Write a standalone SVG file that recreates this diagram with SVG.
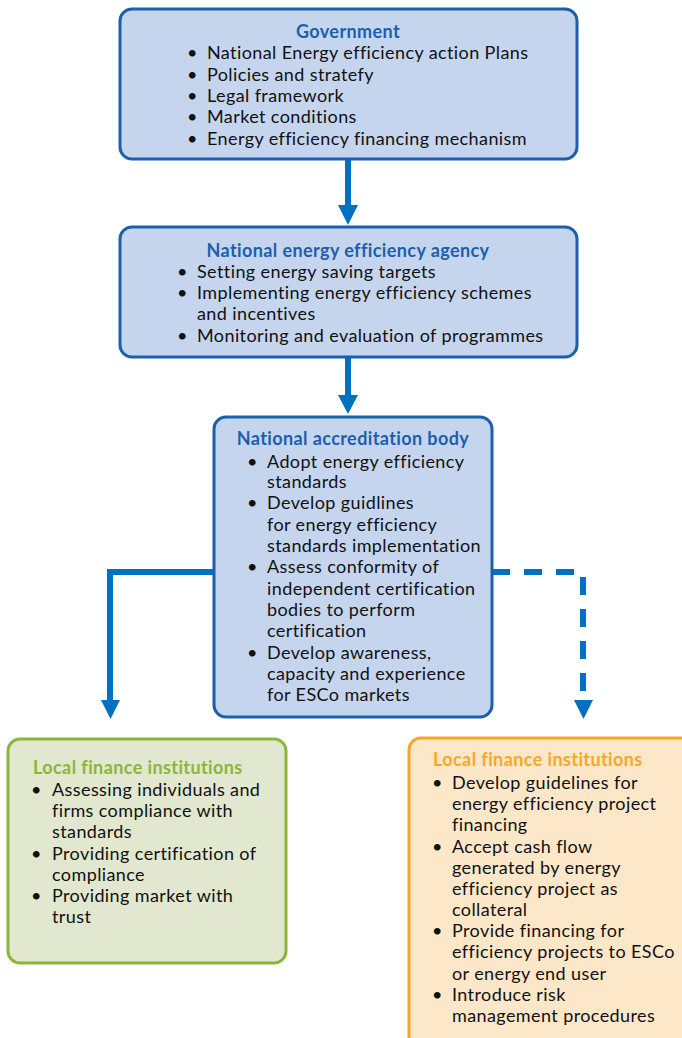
<svg xmlns="http://www.w3.org/2000/svg" width="682" height="1038" viewBox="0 0 682 1038">
  <style>
    .blue-box { fill: #c6d5ee; stroke: #1c5fac; stroke-width: 3; }
    .green-box { fill: #e1e8cf; stroke: #8db53c; stroke-width: 3; }
    .orange-box { fill: #fde7c9; stroke: #f6a72a; stroke-width: 3; }
    text { font-family: Lato, "Liberation Sans", sans-serif; font-size: 18px; letter-spacing: 0.4px; fill: #111111; }
    .title { font-weight: bold; letter-spacing: 0.4px; }
    .t-blue { fill: #1c5fac; }
    .t-green { fill: #8db53c; }
    .t-orange { fill: #f6a72a; }
    .conn { fill: none; stroke: #0070c0; stroke-width: 6; }
    .dashed { stroke-dasharray: 18 14; }
    .head { fill: #0070c0; }
  </style>

  <!-- connectors -->
  <g id="connectors">
    <line class="conn" x1="348" y1="160" x2="348" y2="207"/>
    <polygon class="head" points="338,205 358,205 348,225"/>
    <line class="conn" x1="348" y1="358" x2="348" y2="397"/>
    <polygon class="head" points="338,395 358,395 348,414"/>
    <polyline class="conn" points="213,572 110,572 110,702"/>
    <polygon class="head" points="101,700 120,700 110.5,719"/>
    <polyline class="conn dashed" points="492,572 583,572 583,702"/>
    <polygon class="head" points="574,700 593,700 583.5,719"/>
  </g>

  <!-- Government -->
  <g id="government">
    <rect class="blue-box" x="120" y="9" width="457" height="150" rx="12"/>
    <text class="title t-blue" x="348" y="38" text-anchor="middle">Government</text>
    <text x="187" y="59">•</text><text x="207" y="59">National Energy efficiency action Plans</text>
    <text x="187" y="81">•</text><text x="207" y="81">Policies and stratefy</text>
    <text x="187" y="102">•</text><text x="207" y="102">Legal framework</text>
    <text x="187" y="123">•</text><text x="207" y="123">Market conditions</text>
    <text x="187" y="145">•</text><text x="207" y="145">Energy efficiency financing mechanism</text>
  </g>

  <!-- National energy efficiency agency -->
  <g id="agency">
    <rect class="blue-box" x="120" y="227" width="457" height="130" rx="12"/>
    <text class="title t-blue" x="348" y="257" text-anchor="middle">National energy efficiency agency</text>
    <text x="177" y="278">•</text><text x="197" y="278">Setting energy saving targets</text>
    <text x="177" y="299">•</text><text x="197" y="299">Implementing energy efficiency schemes</text>
    <text x="197" y="320">and incentives</text>
    <text x="177" y="342">•</text><text x="197" y="342">Monitoring and evaluation of programmes</text>
  </g>

  <!-- National accreditation body -->
  <g id="accreditation">
    <rect class="blue-box" x="214" y="417" width="278" height="300" rx="12"/>
    <text class="title t-blue" x="353" y="445" text-anchor="middle">National accreditation body</text>
    <text x="247" y="468">•</text><text x="267" y="468">Adopt energy efficiency</text>
    <text x="267" y="488">standards</text>
    <text x="247" y="509">•</text><text x="267" y="509">Develop guidlines</text>
    <text x="267" y="531">for energy efficiency</text>
    <text x="267" y="552">standards implementation</text>
    <text x="247" y="573">•</text><text x="267" y="573">Assess conformity of</text>
    <text x="267" y="595">independent certification</text>
    <text x="267" y="616">bodies to perform</text>
    <text x="267" y="637">certification</text>
    <text x="247" y="659">•</text><text x="267" y="659">Develop awareness,</text>
    <text x="267" y="680">capacity and experience</text>
    <text x="267" y="701">for ESCo markets</text>
  </g>

  <!-- Local finance institutions (certification side) -->
  <g id="finance-left">
    <rect class="green-box" x="8" y="739" width="278" height="224" rx="12"/>
    <text class="title t-green" x="33" y="774">Local finance institutions</text>
    <text x="31" y="796">•</text><text x="52" y="796">Assessing individuals and</text>
    <text x="52" y="817">firms compliance with</text>
    <text x="52" y="838">standards</text>
    <text x="31" y="860">•</text><text x="52" y="860">Providing certification of</text>
    <text x="52" y="881">compliance</text>
    <text x="31" y="902">•</text><text x="52" y="902">Providing market with</text>
    <text x="52" y="923">trust</text>
  </g>

  <!-- Local finance institutions (financing side) -->
  <g id="finance-right">
    <rect class="orange-box" x="409" y="738" width="290" height="320" rx="12"/>
    <text class="title t-orange" x="433" y="766">Local finance institutions</text>
    <text x="432" y="789">•</text><text x="452" y="789">Develop guidelines for</text>
    <text x="452" y="810">energy efficiency project</text>
    <text x="452" y="831">financing</text>
    <text x="432" y="853">•</text><text x="452" y="853">Accept cash flow</text>
    <text x="452" y="874">generated by energy</text>
    <text x="452" y="895">efficiency project as</text>
    <text x="452" y="916">collateral</text>
    <text x="432" y="937">•</text><text x="452" y="937">Provide financing for</text>
    <text x="452" y="958">efficiency projects to ESCo</text>
    <text x="452" y="980">or energy end user</text>
    <text x="432" y="1001">•</text><text x="452" y="1001">Introduce risk</text>
    <text x="452" y="1022">management procedures</text>
  </g>
</svg>
